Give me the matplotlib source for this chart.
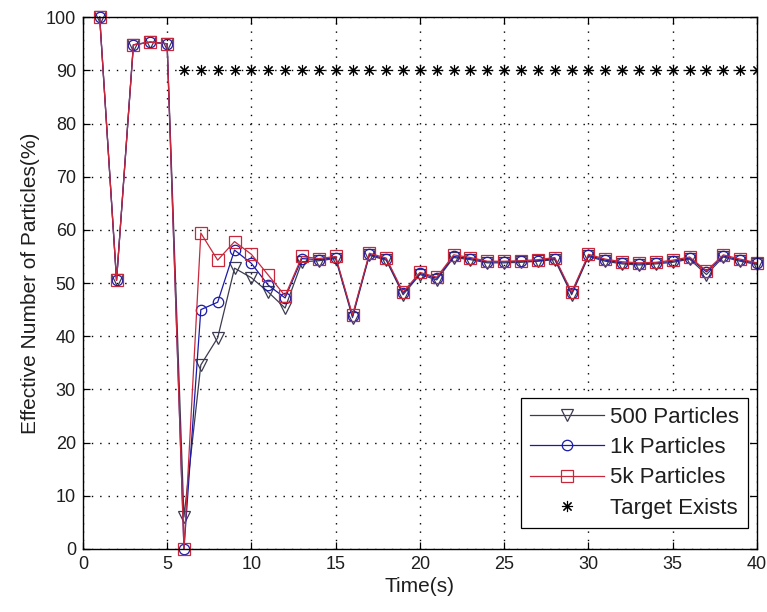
import matplotlib
matplotlib.use("Agg")
from matplotlib import pyplot as plt
import numpy as np

# * DATA

time_s = list(range(1, 41))

particles_500 = [
    100, 50.5, 94.8, 95.3, 95.0, 6.0, 34.6, 39.7, 52.8, 51.0,
    48.3, 45.3, 54.0, 54.2, 54.6, 43.5, 55.2, 54.3, 47.8, 51.6,
    50.6, 54.8, 54.4, 53.8, 53.8, 53.9, 54.1, 54.4, 47.8, 55.0,
    54.1, 53.6, 53.4, 53.6, 53.9, 54.5, 51.6, 54.9, 54.1, 53.5,
]
particles_1k = [
    100, 50.5, 94.8, 95.3, 95.0, 0.0, 45.0, 46.4, 56.2, 53.7,
    49.6, 47.2, 54.6, 54.4, 54.8, 43.8, 55.4, 54.5, 48.1, 51.8,
    50.9, 55.0, 54.6, 54.0, 54.0, 54.1, 54.2, 54.6, 48.1, 55.2,
    54.3, 53.8, 53.6, 53.8, 54.1, 54.7, 52.1, 55.1, 54.3, 53.7,
]
particles_5k = [
    100, 50.5, 94.8, 95.3, 95.0, 0.0, 59.4, 54.3, 57.8, 55.4,
    51.5, 47.6, 55.0, 54.6, 55.0, 44.0, 55.6, 54.7, 48.3, 52.0,
    51.1, 55.3, 54.8, 54.1, 54.1, 54.2, 54.4, 54.8, 48.3, 55.4,
    54.5, 54.0, 53.8, 53.9, 54.3, 54.9, 52.3, 55.3, 54.5, 53.8,
]
target_time = list(range(6, 41))
target_value = [90] * len(target_time)

x_ticks = list(range(0, 41, 5))
y_ticks = list(range(0, 101, 10))

# * PLOT

plt.rcParams["font.family"] = ["Liberation Sans", "DejaVu Sans"]
text_color = "#1e1e1e"

fig = plt.figure(figsize=(7.67, 6.12), dpi=100)
ax = fig.add_axes([0.108, 0.103, 0.879, 0.869])

common = dict(linewidth=0.9, markerfacecolor="none", clip_on=False, markeredgewidth=0.9)
ax.plot(time_s, particles_500, "-v", color="#3c3c50", markersize=8, label="500 Particles", **common)
ax.plot(time_s, particles_1k, "-o", color="#1a1aa8", markersize=7.5, label="1k Particles", **common)
ax.plot(time_s, particles_5k, "-s", color="#c8283c", markersize=8.5, label="5k Particles", **common)
ax.plot(
    target_time,
    target_value,
    linestyle="none",
    marker=(8, 2, 0),
    markersize=8,
    markeredgewidth=0.8,
    color="black",
    label="Target Exists",
)

ax.set_xlim(0, 40)
ax.set_ylim(0, 100)
ax.set_xticks(x_ticks)
ax.set_yticks(y_ticks)
ax.grid(True, color="black", linestyle=(0, (1, 5)), linewidth=1.0)
ax.tick_params(
    direction="in", top=True, right=True, length=5, width=0.9,
    labelsize=13, pad=5, labelcolor=text_color,
)
for spine in ax.spines.values():
    spine.set_linewidth(1.0)

ax.set_xlabel("Time(s)", fontsize=15, labelpad=3, color=text_color)
ax.set_ylabel("Effective Number of Particles(%)", fontsize=15, labelpad=4, color=text_color)

leg = ax.legend(
    loc="lower right",
    bbox_to_anchor=(0.987, 0.04),
    borderaxespad=0,
    fontsize=16,
    handlelength=3.3,
    handletextpad=0.3,
    labelspacing=0.42,
    borderpad=0.4,
    fancybox=False,
    framealpha=1,
    edgecolor="black",
)
leg.get_frame().set_linewidth(0.9)
for txt in leg.get_texts():
    txt.set_color(text_color)

fig.savefig("out.png", dpi=100)
